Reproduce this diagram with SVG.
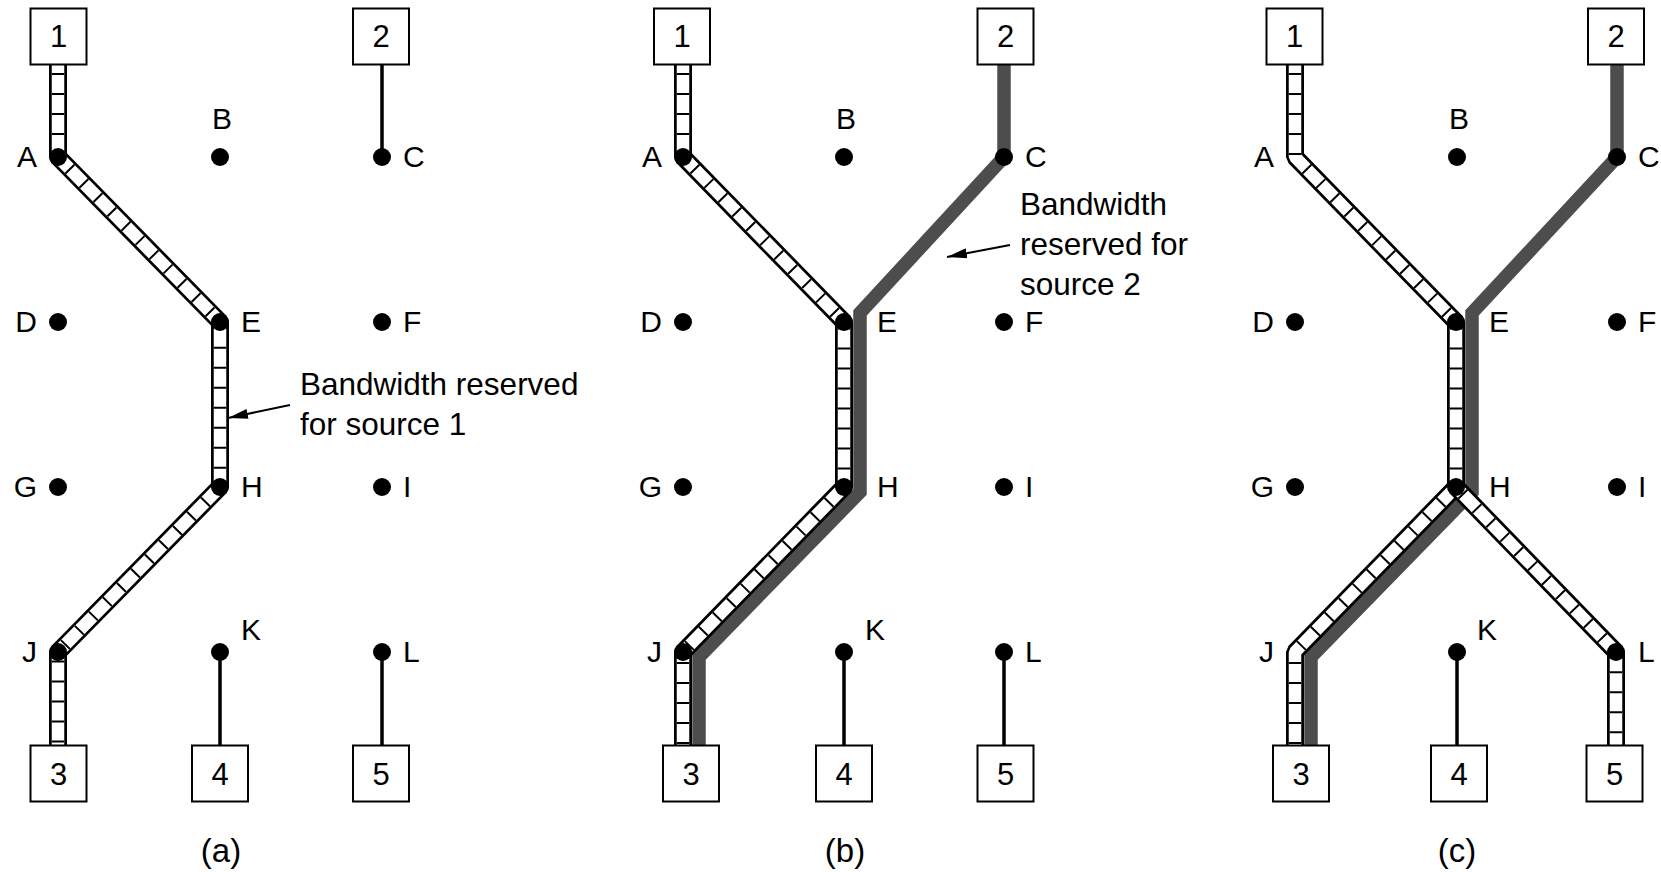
<svg xmlns="http://www.w3.org/2000/svg" xmlns:xlink="http://www.w3.org/1999/xlink" width="1661" height="872" viewBox="0 0 1661 872">
<style>
text { font-family: "Liberation Sans", Arial, sans-serif; fill: #000; }
.lbl { font-size: 30px; }
.num { font-size: 31px; text-anchor: middle; }
.ann { font-size: 31.5px; }
.cap { font-size: 33px; text-anchor: middle; }
.end { text-anchor: end; }
.mid { text-anchor: middle; }
.box { fill: #fff; stroke: #000; stroke-width: 2; }
.dot { fill: #000; }
.thin { fill: none; stroke: #000; stroke-width: 3.5; }
.gray { fill: none; stroke: #4d4d4d; stroke-width: 13.5; stroke-linejoin: miter; }
.sb { fill: none; stroke: #000; stroke-width: 18; stroke-linejoin: bevel; }
.sw { fill: none; stroke: #fff; stroke-width: 12.5; stroke-linejoin: bevel; }
.sr { fill: none; stroke: #000; stroke-width: 12.5; stroke-dasharray: 2 18; stroke-dashoffset: 11; }
.arr { fill: none; stroke: #000; stroke-width: 2; }
</style>
<defs>
<marker id="ah" viewBox="0 0 20 10" refX="20" refY="5" markerWidth="20" markerHeight="10" markerUnits="userSpaceOnUse" orient="auto">
<path d="M0,0 L20,5 L0,10 z" fill="#000"/>
</marker>
<path id="pa1" d="M58,64 V157 L220,322 V487 L58,652 V745"/>
<path id="pb1" d="M683,64 V157 L844,322 V487 L683,652 V745"/>
<path id="pc1" d="M1295,64 V157 L1456,322 V487 L1295,652 V745"/>
<path id="pc2" d="M1456,487 L1616,652 V745"/>
</defs>
<rect width="1661" height="872" fill="#fff"/>

<g id="connectors">
<!-- panel a -->
<path class="thin" d="M382,64 V157 M220,652 V745 M382,652 V745"/>
<use xlink:href="#pa1" class="sb"/><use xlink:href="#pa1" class="sw"/><use xlink:href="#pa1" class="sr"/>
<!-- panel b -->
<path class="thin" d="M844,652 V745 M1004,652 V745"/>
<path class="gray" d="M1004,64 V157 L860,313 V492 L699,657 V745"/>
<use xlink:href="#pb1" class="sb"/><use xlink:href="#pb1" class="sw"/><use xlink:href="#pb1" class="sr"/>
<!-- panel c -->
<path class="thin" d="M1457,652 V745"/>
<path class="gray" d="M1617,64 V157 L1472,313 V492 L1311,657 V745"/>
<use xlink:href="#pc1" class="sb"/><use xlink:href="#pc1" class="sw"/><use xlink:href="#pc1" class="sr"/>
<use xlink:href="#pc2" class="sb"/><use xlink:href="#pc2" class="sw"/><use xlink:href="#pc2" class="sr"/>
</g>

<g id="panel-a">
<g id="a-A"><circle class="dot" cx="58" cy="157" r="9"/><text class="lbl end" x="37" y="167">A</text></g>
<g id="a-B"><circle class="dot" cx="220" cy="157" r="9"/><text class="lbl mid" x="222" y="129">B</text></g>
<g id="a-C"><circle class="dot" cx="382" cy="157" r="9"/><text class="lbl" x="403" y="167">C</text></g>
<g id="a-D"><circle class="dot" cx="58" cy="322" r="9"/><text class="lbl end" x="37" y="332">D</text></g>
<g id="a-E"><circle class="dot" cx="220" cy="322" r="9"/><text class="lbl" x="241" y="332">E</text></g>
<g id="a-F"><circle class="dot" cx="382" cy="322" r="9"/><text class="lbl" x="403" y="332">F</text></g>
<g id="a-G"><circle class="dot" cx="58" cy="487" r="9"/><text class="lbl end" x="37" y="497">G</text></g>
<g id="a-H"><circle class="dot" cx="220" cy="487" r="9"/><text class="lbl" x="241" y="497">H</text></g>
<g id="a-I"><circle class="dot" cx="382" cy="487" r="9"/><text class="lbl" x="403" y="497">I</text></g>
<g id="a-J"><circle class="dot" cx="58" cy="652" r="9"/><text class="lbl end" x="37" y="662">J</text></g>
<g id="a-K"><circle class="dot" cx="220" cy="652" r="9"/><text class="lbl" x="241" y="640">K</text></g>
<g id="a-L"><circle class="dot" cx="382" cy="652" r="9"/><text class="lbl" x="403" y="662">L</text></g>
<g id="a-h1"><rect class="box" x="30.5" y="8.5" width="56" height="56"/><text class="num" x="58.5" y="47">1</text></g>
<g id="a-h2"><rect class="box" x="353" y="8.5" width="56" height="56"/><text class="num" x="381" y="47">2</text></g>
<g id="a-h3"><rect class="box" x="30.5" y="745.5" width="56" height="56"/><text class="num" x="58.5" y="785">3</text></g>
<g id="a-h4"><rect class="box" x="192" y="745.5" width="56" height="56"/><text class="num" x="220" y="785">4</text></g>
<g id="a-h5"><rect class="box" x="353" y="745.5" width="56" height="56"/><text class="num" x="381" y="785">5</text></g>
<g id="a-note"><text class="ann" x="300" y="395">Bandwidth reserved</text><text class="ann" x="300" y="435">for source 1</text>
<line class="arr" x1="290" y1="405" x2="228" y2="418" marker-end="url(#ah)"/></g>
<text class="cap" x="221" y="862">(a)</text>
</g>

<g id="panel-b">
<g id="b-A"><circle class="dot" cx="683" cy="157" r="9"/><text class="lbl end" x="662" y="167">A</text></g>
<g id="b-B"><circle class="dot" cx="844" cy="157" r="9"/><text class="lbl mid" x="846" y="129">B</text></g>
<g id="b-C"><circle class="dot" cx="1004" cy="157" r="9"/><text class="lbl" x="1025" y="167">C</text></g>
<g id="b-D"><circle class="dot" cx="683" cy="322" r="9"/><text class="lbl end" x="662" y="332">D</text></g>
<g id="b-E"><circle class="dot" cx="844" cy="322" r="9"/><text class="lbl" x="877" y="332">E</text></g>
<g id="b-F"><circle class="dot" cx="1004" cy="322" r="9"/><text class="lbl" x="1025" y="332">F</text></g>
<g id="b-G"><circle class="dot" cx="683" cy="487" r="9"/><text class="lbl end" x="662" y="497">G</text></g>
<g id="b-H"><circle class="dot" cx="844" cy="487" r="9"/><text class="lbl" x="877" y="497">H</text></g>
<g id="b-I"><circle class="dot" cx="1004" cy="487" r="9"/><text class="lbl" x="1025" y="497">I</text></g>
<g id="b-J"><circle class="dot" cx="683" cy="652" r="9"/><text class="lbl end" x="662" y="662">J</text></g>
<g id="b-K"><circle class="dot" cx="844" cy="652" r="9"/><text class="lbl" x="865" y="640">K</text></g>
<g id="b-L"><circle class="dot" cx="1004" cy="652" r="9"/><text class="lbl" x="1025" y="662">L</text></g>
<g id="b-h1"><rect class="box" x="654" y="8.5" width="56" height="56"/><text class="num" x="682" y="47">1</text></g>
<g id="b-h2"><rect class="box" x="977.5" y="8.5" width="56" height="56"/><text class="num" x="1005.5" y="47">2</text></g>
<g id="b-h3"><rect class="box" x="663" y="745.5" width="56" height="56"/><text class="num" x="691" y="785">3</text></g>
<g id="b-h4"><rect class="box" x="816" y="745.5" width="56" height="56"/><text class="num" x="844" y="785">4</text></g>
<g id="b-h5"><rect class="box" x="977.5" y="745.5" width="56" height="56"/><text class="num" x="1005.5" y="785">5</text></g>
<g id="b-note"><text class="ann" x="1020" y="215">Bandwidth</text><text class="ann" x="1020" y="255">reserved for</text><text class="ann" x="1020" y="295">source 2</text>
<line class="arr" x1="1010" y1="245" x2="947" y2="257" marker-end="url(#ah)"/></g>
<text class="cap" x="845" y="862">(b)</text>
</g>

<g id="panel-c">
<g id="c-A"><text class="lbl end" x="1274" y="167">A</text></g>
<g id="c-B"><circle class="dot" cx="1457" cy="157" r="9"/><text class="lbl mid" x="1459" y="129">B</text></g>
<g id="c-C"><circle class="dot" cx="1617" cy="157" r="9"/><text class="lbl" x="1638" y="167">C</text></g>
<g id="c-D"><circle class="dot" cx="1295" cy="322" r="9"/><text class="lbl end" x="1274" y="332">D</text></g>
<g id="c-E"><circle class="dot" cx="1456" cy="322" r="9"/><text class="lbl" x="1489" y="332">E</text></g>
<g id="c-F"><circle class="dot" cx="1617" cy="322" r="9"/><text class="lbl" x="1638" y="332">F</text></g>
<g id="c-G"><circle class="dot" cx="1295" cy="487" r="9"/><text class="lbl end" x="1274" y="497">G</text></g>
<g id="c-H"><circle class="dot" cx="1456" cy="487" r="9"/><text class="lbl" x="1489" y="497">H</text></g>
<g id="c-I"><circle class="dot" cx="1617" cy="487" r="9"/><text class="lbl" x="1638" y="497">I</text></g>
<g id="c-J"><text class="lbl end" x="1274" y="662">J</text></g>
<g id="c-K"><circle class="dot" cx="1457" cy="652" r="9"/><text class="lbl" x="1477" y="640">K</text></g>
<g id="c-L"><circle class="dot" cx="1616" cy="652" r="9"/><text class="lbl" x="1638" y="662">L</text></g>
<g id="c-h1"><rect class="box" x="1266.5" y="8.5" width="56" height="56"/><text class="num" x="1294.5" y="47">1</text></g>
<g id="c-h2"><rect class="box" x="1588" y="8.5" width="56" height="56"/><text class="num" x="1616" y="47">2</text></g>
<g id="c-h3"><rect class="box" x="1273" y="745.5" width="56" height="56"/><text class="num" x="1301" y="785">3</text></g>
<g id="c-h4"><rect class="box" x="1431" y="745.5" width="56" height="56"/><text class="num" x="1459" y="785">4</text></g>
<g id="c-h5"><rect class="box" x="1586.5" y="745.5" width="56" height="56"/><text class="num" x="1614.5" y="785">5</text></g>
<text class="cap" x="1457" y="862">(c)</text>
</g>
</svg>
